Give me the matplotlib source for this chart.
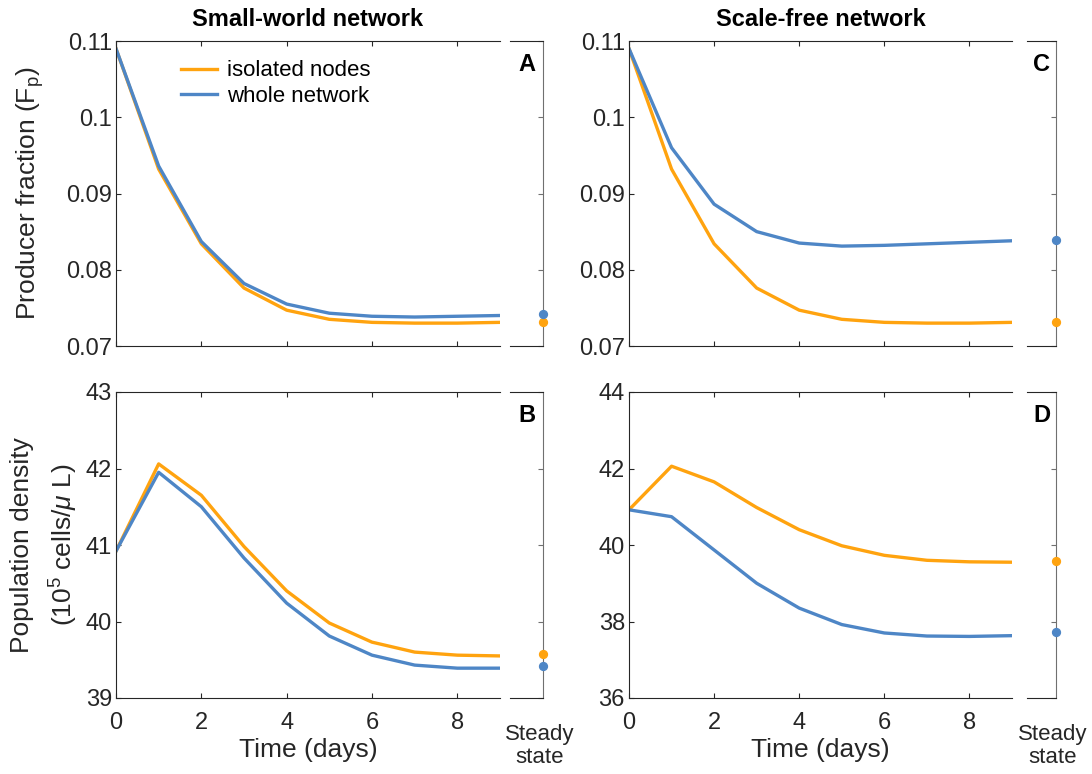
import numpy as np
import matplotlib.pyplot as plt

plt.rcParams['font.family'] = ['Liberation Sans', 'DejaVu Sans']
plt.rcParams['mathtext.fontset'] = 'custom'
plt.rcParams['mathtext.rm'] = 'Liberation Sans'
plt.rcParams['mathtext.it'] = 'Liberation Sans:italic'

# data
days = [0, 1, 2, 3, 4, 5, 6, 7, 8, 9]

fp_isolated = [0.109, 0.0932, 0.0834, 0.0776, 0.0747, 0.0735, 0.0731, 0.0730, 0.0730, 0.0731]
fp_small_world = [0.109, 0.0936, 0.0837, 0.0782, 0.0755, 0.0743, 0.0739, 0.0738, 0.0739, 0.0740]
fp_scale_free = [0.109, 0.0960, 0.0886, 0.0850, 0.0835, 0.0831, 0.0832, 0.0834, 0.0836, 0.0838]

pd_isolated = [40.92, 42.06, 41.65, 40.98, 40.40, 39.98, 39.73, 39.60, 39.56, 39.55]
pd_small_world = [40.92, 41.95, 41.50, 40.83, 40.24, 39.81, 39.56, 39.43, 39.39, 39.39]
pd_scale_free = [40.92, 40.74, 39.87, 39.00, 38.35, 37.92, 37.70, 37.62, 37.61, 37.63]

# steady state values (isolated, whole network)
ss_A = [0.0731, 0.0742]
ss_B = [39.57, 39.42]
ss_C = [0.0731, 0.0839]
ss_D = [39.57, 37.73]

orange = '#FFA30F'
blue = '#4E86C6'
dark = '#262626'

W, H = 1092, 774
fig = plt.figure(figsize=(W / 100, H / 100), dpi=100)

def px_axes(left, right, top, bottom):
    return fig.add_axes([left / W, (H - bottom) / H, (right - left) / W, (bottom - top) / H])

def panel(main_box, ss_box, iso, whole, ss, ylim, yticks, yticklabels, letter, xlabels):
    ax = px_axes(*main_box)
    ax.plot(days, iso, color=orange, lw=2.4, label='isolated nodes')
    ax.plot(days, whole, color=blue, lw=2.4, label='whole network')
    ax.set_xlim(0, 9)
    ax.set_ylim(*ylim)
    ax.set_xticks([0, 2, 4, 6, 8])
    ax.set_yticks(yticks)
    ax.set_yticklabels(yticklabels)
    ax.spines['right'].set_visible(False)
    for s in ['left', 'top', 'bottom']:
        ax.spines[s].set_color(dark)
    ax.tick_params(direction='in', top=True, right=False, labelsize=17, colors=dark,
                   length=3.5, width=0.8)
    ax.tick_params(axis='y', pad=3)
    ax.tick_params(axis='x', pad=10)
    if not xlabels:
        ax.set_xticklabels([])

    sx = px_axes(*ss_box)
    sx.set_xlim(0, 1)
    sx.set_ylim(*ylim)
    sx.scatter([1], [ss[0]], color=orange, s=32, zorder=3, clip_on=False)
    sx.scatter([1], [ss[1]], color=blue, s=32, zorder=3, clip_on=False)
    sx.spines['left'].set_visible(False)
    for s in ['top', 'bottom']:
        sx.spines[s].set_color(dark)
    sx.spines['right'].set_color('#707070')
    sx.set_xticks([])
    sx.set_yticks(yticks)
    sx.tick_params(axis='y', direction='in', left=False, right=True, labelleft=False,
                   length=3.5, width=0.8, color='#707070')
    sx.text(0.5, 1 - 12 / 305, letter, transform=sx.transAxes, ha='center', va='top',
            fontsize=17, fontweight='bold')
    if xlabels:
        sx.text(0.89, -0.085, 'Steady\nstate', transform=sx.transAxes, ha='center', va='top',
                fontsize=16, color=dark, linespacing=1.15)
    return ax

yt_fp = [0.07, 0.08, 0.09, 0.10, 0.11]
yl_fp = ['0.07', '0.08', '0.09', '0.1', '0.11']

axA = panel((116, 500, 41, 346), (510, 543, 41, 346), fp_isolated, fp_small_world, ss_A,
            (0.07, 0.11), yt_fp, yl_fp, 'A', False)
axC = panel((629, 1012, 41, 346), (1027, 1056, 41, 346), fp_isolated, fp_scale_free, ss_C,
            (0.07, 0.11), yt_fp, yl_fp, 'C', False)
axB = panel((116, 500, 392, 698), (510, 543, 392, 698), pd_isolated, pd_small_world, ss_B,
            (39, 43), [39, 40, 41, 42, 43], ['39', '40', '41', '42', '43'], 'B', True)
axD = panel((629, 1012, 392, 698), (1027, 1056, 392, 698), pd_isolated, pd_scale_free, ss_D,
            (36, 44), [36, 38, 40, 42, 44], ['36', '38', '40', '42', '44'], 'D', True)

axA.set_title('Small-world network', fontsize=17, fontweight='bold', pad=11, x=0.5)
axC.set_title('Scale-free network', fontsize=17, fontweight='bold', pad=11, x=0.5)

axA.set_ylabel('Producer fraction (F$_\\mathregular{p}$)', fontsize=19, color=dark, labelpad=14)
axB.set_ylabel('Population density\n(10$^\\mathregular{5}$ cells/$\\mu$ L)', fontsize=19, color=dark,
               labelpad=4, linespacing=1.55)
axB.set_xlabel('Time (days)', fontsize=19, color=dark, labelpad=3)
axD.set_xlabel('Time (days)', fontsize=19, color=dark, labelpad=3)

axA.legend(loc='upper left', bbox_to_anchor=(0.135, 0.98), frameon=False, fontsize=16,
           handlelength=1.6, handletextpad=0.45, labelspacing=0.2, borderaxespad=0.2)

fig.savefig('out.png', dpi=100)
